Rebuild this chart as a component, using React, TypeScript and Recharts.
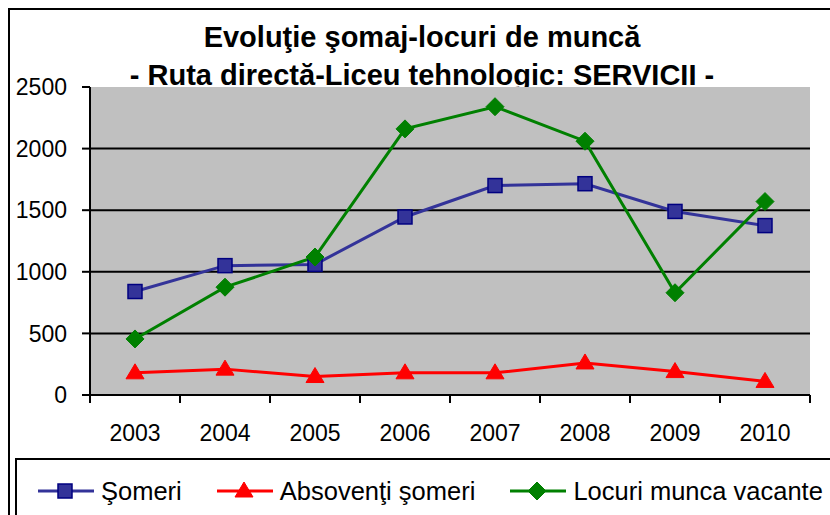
import React from "react";
import { LineChart, Line, XAxis, YAxis, CartesianGrid, Legend } from "recharts";

const years = ["2003", "2004", "2005", "2006", "2007", "2008", "2009", "2010"];
const someri = [840, 1050, 1060, 1445, 1700, 1715, 1490, 1375];
const absolventi = [180, 210, 150, 180, 180, 260, 190, 110];
const locuri = [455, 875, 1120, 2160, 2340, 2060, 830, 1570];
const yTicks = [0, 500, 1000, 1500, 2000, 2500];

const data = years.map((y, i) => ({
  x: i + 0.5,
  year: y,
  someri: someri[i],
  absolventi: absolventi[i],
  locuri: locuri[i],
}));

const xTicks: number[] = [];
for (let i = 0; i <= years.length * 2; i++) xTicks.push(i / 2);

const FONT = '"Liberation Sans", Arial, sans-serif';

const SquareDot = (p: any) => {
  const { cx, cy } = p;
  if (cx == null || cy == null) return null;
  return <rect x={cx - 7} y={cy - 7} width={14} height={14} fill="#333399" stroke="#000080" strokeWidth={1.5} />;
};
const TriangleDot = (p: any) => {
  const { cx, cy } = p;
  if (cx == null || cy == null) return null;
  return <polygon points={`${cx},${cy - 9} ${cx + 9},${cy + 6} ${cx - 9},${cy + 6}`} fill="#FF0000" stroke="#FF0000" strokeWidth={1} />;
};
const DiamondDot = (p: any) => {
  const { cx, cy } = p;
  if (cx == null || cy == null) return null;
  return <polygon points={`${cx},${cy - 9} ${cx + 9},${cy} ${cx},${cy + 9} ${cx - 9},${cy}`} fill="#008000" stroke="#008000" strokeWidth={1} />;
};

const series = [
  { key: "someri", name: "Şomeri", color: "#333399", Dot: SquareDot },
  { key: "absolventi", name: "Absovenţi şomeri", color: "#FF0000", Dot: TriangleDot },
  { key: "locuri", name: "Locuri munca vacante", color: "#008000", Dot: DiamondDot },
];

const XTick = (props: any) => {
  const { x, y, payload } = props;
  const v = payload.value as number;
  if (Number.isInteger(v)) {
    return <line x1={x} x2={x} y1={y - 8} y2={y} stroke="#000" strokeWidth={2} />;
  }
  const idx = Math.floor(v);
  return (
    <text x={x} y={y} dy={38} textAnchor="middle" fontSize={23} fontFamily={FONT} fill="#000">
      {years[idx]}
    </text>
  );
};

const LegendContent = () => (
  <div style={{ display: "flex", alignItems: "center", fontFamily: FONT, fontSize: 25.5, color: "#000", lineHeight: "32px" }}>
    {series.map((s, i) => (
      <div key={s.key} style={{ display: "flex", alignItems: "center", marginRight: i < series.length - 1 ? 35 : 0 }}>
        <svg width={56} height={22} style={{ marginRight: 7 }}>
          <line x1={0} x2={56} y1={11} y2={11} stroke={s.color} strokeWidth={3} />
          <s.Dot cx={27} cy={11} />
        </svg>
        <span style={{ whiteSpace: "nowrap" }}>{s.name}</span>
      </div>
    ))}
  </div>
);

export default function App() {
  return (
    <div style={{ position: "absolute", left: 0, top: 0, width: 830, height: 515, overflow: "hidden", background: "#fff" }}>
      <div style={{ position: "absolute", left: 8, top: 8, width: 900, height: 600, border: "2px solid #000" }} />
      <div
        style={{
          position: "absolute",
          left: 22,
          top: 18,
          width: 800,
          textAlign: "center",
          fontFamily: FONT,
          fontWeight: "bold",
          fontSize: 29,
          lineHeight: "38px",
          color: "#000",
          whiteSpace: "nowrap",
        }}
      >
        <div>Evoluţie şomaj-locuri de muncă</div>
        <div>- Ruta directă-Liceu tehnologic: SERVICII -</div>
      </div>
      <div style={{ position: "absolute", left: 0, top: 0 }}>
        <LineChart width={830} height={515} data={data} margin={{ top: 87, right: 20, left: 0, bottom: 0 }}>
          <CartesianGrid
            fill="#C0C0C0"
            vertical={false}
            stroke="#000"
            strokeWidth={2}
            strokeOpacity={1}
            horizontalValues={[500, 1000, 1500, 2000]}
          />
          <XAxis
            xAxisId="top"
            orientation="top"
            type="number"
            domain={[0, 8]}
            height={0}
            tick={false}
            tickLine={false}
            axisLine={{ stroke: "#808080", strokeWidth: 2 }}
          />
          <YAxis
            yAxisId="right"
            orientation="right"
            domain={[0, 2500]}
            width={0}
            tick={false}
            tickLine={false}
            axisLine={{ stroke: "#808080", strokeWidth: 2 }}
          />
          <XAxis
            dataKey="x"
            type="number"
            domain={[0, 8]}
            ticks={xTicks}
            interval={0}
            height={120}
            tickLine={false}
            tickSize={8}
            tickMargin={0}
            axisLine={{ stroke: "#000", strokeWidth: 2 }}
            tick={<XTick />}
          />
          <YAxis
            domain={[0, 2500]}
            ticks={yTicks}
            interval={0}
            width={90}
            tickSize={8}
            tickMargin={15}
            tickLine={{ stroke: "#000", strokeWidth: 2 }}
            axisLine={{ stroke: "#000", strokeWidth: 2 }}
            tick={{ fill: "#000", fontSize: 23, fontFamily: FONT }}
          />
          {series.map((s) => (
            <Line
              key={s.key}
              dataKey={s.key}
              name={s.name}
              stroke={s.color}
              strokeWidth={3}
              dot={<s.Dot />}
              activeDot={false}
              isAnimationActive={false}
            />
          ))}
          <Legend
            layout="vertical"
            verticalAlign="middle"
            align="center"
            content={<LegendContent />}
            wrapperStyle={{
              position: "absolute",
              left: 15,
              top: 458,
              width: 830,
              height: 80,
              border: "2px solid #000",
              paddingLeft: 21,
              paddingTop: 15,
              boxSizing: "border-box",
              background: "transparent",
            }}
          />
        </LineChart>
      </div>
    </div>
  );
}
